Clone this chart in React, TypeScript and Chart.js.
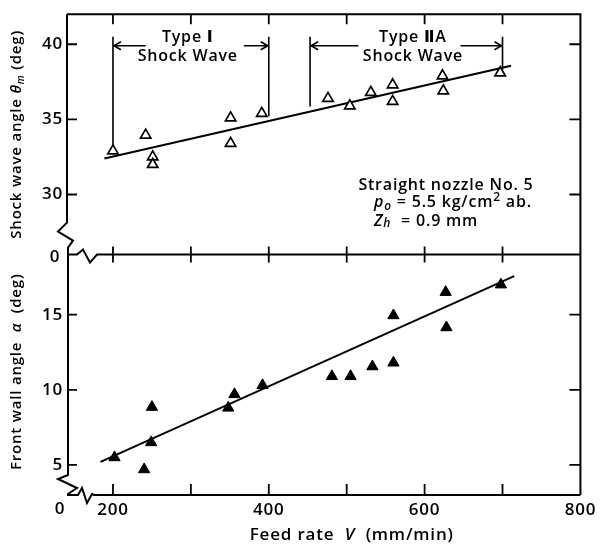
import React, { useEffect, useRef } from 'react';
import { Chart, registerables } from 'chart.js';
Chart.register(...registerables);

// ---- data ----
const shockX = [200, 242, 251, 251, 351, 351, 391, 476, 504, 531, 559, 559, 623, 624, 697];
const shockY = [32.9, 33.95, 32.5, 32.0, 35.1, 33.4, 35.4, 36.4, 35.9, 36.8, 37.3, 36.2, 37.9, 36.9, 38.1];
const wallX = [202, 240, 249, 250, 348, 356, 392, 481, 505, 533, 560, 560, 627, 628, 698];
const wallY = [5.5, 4.7, 6.5, 8.85, 8.8, 9.7, 10.3, 10.9, 10.9, 11.55, 11.8, 14.95, 16.5, 14.15, 17.0];
const shockFitX = [189, 711];
const shockFitY = [32.4, 38.57];
const wallFitX = [184, 715];
const wallFitY = [5.2, 17.57];

const xLabelTicks = [200, 400, 600, 800];
const xTickMarks = [200, 300, 400, 500, 600, 700];
const shockTicks = [30, 35, 40];
const wallTicks = [5, 10, 15];
const X_MIN = 141;
const X_MAX = 800;
const SHOCK_MIN = 26;
const SHOCK_MAX = 42;
const WALL_MIN = 3;
const WALL_MAX = 19;

// shock-wave type brackets (x ranges) and labels
const typeNames = ['Type \u2160', 'Type \u2161A'];
const typeRanges = [[200, 400], [453, 700]];
const typeBottoms = [[33.3, 35.2], [35.85, 38.3]];
const typeLabelX = [296, 585];
const typeArrowInner = [[242, 368], [515, 646]];

const FONT = '"Open Sans", "DejaVu Sans", sans-serif';
const W = '600';
const SPACING = '0.8px';

type Run = { t: string; font: string; dy?: number };
function drawRuns(ctx: CanvasRenderingContext2D, runs: Run[], x: number, y: number, align: 'left' | 'center') {
  let total = 0;
  runs.forEach((r) => { ctx.font = r.font; total += ctx.measureText(r.t).width; });
  let cx = align === 'center' ? x - total / 2 : x;
  ctx.textAlign = 'left';
  ctx.textBaseline = 'middle';
  runs.forEach((r) => {
    ctx.font = r.font;
    ctx.fillText(r.t, cx, y + (r.dy || 0));
    cx += ctx.measureText(r.t).width;
  });
}

const framePlugin = {
  id: 'framePlugin',
  beforeDraw(chart: any) {
    (chart.ctx as any).letterSpacing = SPACING;
  },
  afterDraw(chart: any) {
    const ctx: CanvasRenderingContext2D = chart.ctx;
    const ca = chart.chartArea;
    const xs = chart.scales.x;
    const yt = chart.scales.yTop;
    const yb = chart.scales.yBot;
    const L = ca.left, R = ca.right, T = ca.top, B = ca.bottom;
    const M = yt.bottom;
    ctx.save();
    (ctx as any).letterSpacing = SPACING;
    ctx.strokeStyle = '#000';
    ctx.fillStyle = '#000';
    ctx.lineWidth = 2;
    ctx.lineJoin = 'miter';
    // top + right
    ctx.beginPath();
    ctx.moveTo(L, T); ctx.lineTo(R, T); ctx.lineTo(R, B);
    ctx.stroke();
    // left axis with two breaks
    ctx.beginPath();
    ctx.moveTo(L, T);
    ctx.lineTo(L, M - 32);
    ctx.lineTo(L - 9, M - 23);
    ctx.lineTo(L + 6, M - 14);
    ctx.lineTo(L + 1, M - 7);
    ctx.lineTo(L + 1, B - 20);
    ctx.lineTo(L - 9, B - 16);
    ctx.lineTo(L + 10, B - 7);
    ctx.lineTo(L + 1, B - 1);
    ctx.lineTo(L + 1, B);
    ctx.stroke();
    // divider with break
    ctx.beginPath();
    ctx.moveTo(L, M);
    ctx.lineTo(L + 10, M);
    ctx.lineTo(L + 16, M - 5);
    ctx.lineTo(L + 23, M + 8);
    ctx.lineTo(L + 30, M);
    ctx.lineTo(R, M);
    ctx.stroke();
    // bottom with break
    ctx.beginPath();
    ctx.moveTo(L, B);
    ctx.lineTo(L + 11, B);
    ctx.lineTo(L + 15, B - 7);
    ctx.lineTo(L + 20, B + 8);
    ctx.lineTo(L + 25, B - 1);
    ctx.lineTo(L + 27, B);
    ctx.lineTo(R, B);
    ctx.stroke();

    // tick marks (inward)
    ctx.lineWidth = 1.8;
    ctx.beginPath();
    xTickMarks.forEach((v) => {
      const px = xs.getPixelForValue(v);
      ctx.moveTo(px, T); ctx.lineTo(px, T + 10);
      ctx.moveTo(px, M - 8); ctx.lineTo(px, M + 8);
      ctx.moveTo(px, B); ctx.lineTo(px, B - 11);
    });
    shockTicks.forEach((v) => {
      const py = yt.getPixelForValue(v);
      ctx.moveTo(L, py); ctx.lineTo(L + 10, py);
      ctx.moveTo(R, py); ctx.lineTo(R - 11, py);
    });
    wallTicks.forEach((v) => {
      const py = yb.getPixelForValue(v);
      ctx.moveTo(L, py); ctx.lineTo(L + 10, py);
      ctx.moveTo(R, py); ctx.lineTo(R - 11, py);
    });
    ctx.stroke();

    // "0" labels at the broken origins
    ctx.font = `${W} 17px ${FONT}`;
    ctx.textAlign = 'center';
    ctx.textBaseline = 'middle';
    ctx.fillText('0', L - 12, M + 3);
    ctx.fillText('0', L - 7, B + 14);

    // type brackets
    ctx.lineWidth = 1.6;
    const topY = yt.getPixelForValue(40.5);
    const arrowY = yt.getPixelForValue(39.9);
    typeRanges.forEach((rg, i) => {
      const x0 = xs.getPixelForValue(rg[0]);
      const x1 = xs.getPixelForValue(rg[1]);
      ctx.beginPath();
      ctx.moveTo(x0, topY); ctx.lineTo(x0, yt.getPixelForValue(typeBottoms[i][0]));
      ctx.moveTo(x1, topY); ctx.lineTo(x1, yt.getPixelForValue(typeBottoms[i][1]));
      const a0 = xs.getPixelForValue(typeArrowInner[i][0]);
      const a1 = xs.getPixelForValue(typeArrowInner[i][1]);
      ctx.moveTo(x0, arrowY); ctx.lineTo(a0, arrowY);
      ctx.moveTo(a1, arrowY); ctx.lineTo(x1, arrowY);
      // arrowheads
      ctx.moveTo(x0 + 8, arrowY - 4); ctx.lineTo(x0 + 1, arrowY); ctx.lineTo(x0 + 8, arrowY + 4);
      ctx.moveTo(x1 - 8, arrowY - 4); ctx.lineTo(x1 - 1, arrowY); ctx.lineTo(x1 - 8, arrowY + 4);
      ctx.stroke();
      const lx = xs.getPixelForValue(typeLabelX[i]);
      drawRuns(ctx, [{ t: typeNames[i], font: `${W} 16px ${FONT}` }], lx, yt.getPixelForValue(40.45), 'center');
      drawRuns(ctx, [{ t: 'Shock Wave', font: `${W} 16px ${FONT}` }], lx, yt.getPixelForValue(39.2), 'center');
    });

    // note
    const n16 = `${W} 16px ${FONT}`;
    const i16 = `italic ${W} 16px ${FONT}`;
    drawRuns(ctx, [{ t: 'Straight nozzle No. 5', font: n16 }], xs.getPixelForValue(515), yt.getPixelForValue(30.6), 'left');
    drawRuns(ctx, [
      { t: 'p', font: i16 },
      { t: 'o', font: `italic ${W} 12px ${FONT}`, dy: 4 },
      { t: ' = 5.5 kg/cm', font: n16 },
      { t: '2', font: `${W} 12px ${FONT}`, dy: -5 },
      { t: ' ab.', font: n16 },
    ], xs.getPixelForValue(535), yt.getPixelForValue(29.45), 'left');
    drawRuns(ctx, [
      { t: 'Z', font: i16 },
      { t: 'h', font: `italic ${W} 12px ${FONT}`, dy: 2 },
      { t: '  = 0.9 mm', font: n16 },
    ], xs.getPixelForValue(535), yt.getPixelForValue(28.2), 'left');

    // axis titles
    const n15 = `${W} 15px ${FONT}`;
    ctx.save();
    ctx.translate(17, (T + M) / 2);
    ctx.rotate(-Math.PI / 2);
    drawRuns(ctx, [
      { t: 'Shock wave angle ', font: n15 },
      { t: '\u03b8', font: `italic ${W} 15px ${FONT}` },
      { t: 'm', font: `italic ${W} 10px ${FONT}`, dy: 4 },
      { t: ' (deg)', font: n15 },
    ], 0, 0, 'center');
    ctx.restore();
    ctx.save();
    ctx.translate(17, (M + B) / 2 - 3);
    ctx.rotate(-Math.PI / 2);
    drawRuns(ctx, [
      { t: 'Front wall angle  ', font: n15 },
      { t: '\u03b1', font: `italic ${W} 15px ${FONT}` },
      { t: '  (deg)', font: n15 },
    ], 0, 0, 'center');
    ctx.restore();
    drawRuns(ctx, [
      { t: 'Feed rate  ', font: `${W} 17px ${FONT}` },
      { t: 'V', font: `italic ${W} 17px ${FONT}` },
      { t: '  (mm/min)', font: `${W} 17px ${FONT}` },
    ], (L + R) / 2 + 28, 535, 'center');

    ctx.restore();
  },
};

export default function App() {
  const ref = useRef<HTMLCanvasElement | null>(null);
  useEffect(() => {
    if (!ref.current) return;
    const tickFont = { family: FONT, size: 17, weight: W };
    const chart = new Chart(ref.current, {
      type: 'scatter',
      data: {
        datasets: [
          {
            label: 'Shock wave angle',
            data: shockX.map((x, i) => ({ x, y: shockY[i] })),
            yAxisID: 'yTop',
            pointStyle: 'triangle',
            pointRadius: 6,
            backgroundColor: '#fff',
            borderColor: '#000',
            borderWidth: 1.7,
            showLine: false,
          },
          {
            label: 'Shock fit',
            data: shockFitX.map((x, i) => ({ x, y: shockFitY[i] })),
            yAxisID: 'yTop',
            showLine: true,
            pointRadius: 0,
            borderColor: '#000',
            borderWidth: 2,
          },
          {
            label: 'Front wall angle',
            data: wallX.map((x, i) => ({ x, y: wallY[i] })),
            yAxisID: 'yBot',
            pointStyle: 'triangle',
            pointRadius: 6.5,
            backgroundColor: '#000',
            borderColor: '#000',
            borderWidth: 1,
            showLine: false,
          },
          {
            label: 'Wall fit',
            data: wallFitX.map((x, i) => ({ x, y: wallFitY[i] })),
            yAxisID: 'yBot',
            showLine: true,
            pointRadius: 0,
            borderColor: '#000',
            borderWidth: 2,
          },
        ],
      },
      plugins: [framePlugin],
      options: {
        animation: false,
        responsive: false,
        devicePixelRatio: 1,
        layout: { padding: { top: 9, right: 17, left: 0, bottom: 0 } },
        plugins: { legend: { display: false }, tooltip: { enabled: false } },
        scales: {
          x: {
            type: 'linear',
            min: X_MIN,
            max: X_MAX,
            afterBuildTicks: (s: any) => { s.ticks = xLabelTicks.map((v) => ({ value: v })); },
            afterFit: (s: any) => { s.height = 54; },
            grid: { display: false, drawTicks: false },
            border: { display: false },
            ticks: { font: tickFont, color: '#000', padding: 5, maxRotation: 0, autoSkip: false },
          },
          yTop: {
            type: 'linear',
            position: 'left',
            stack: 'panels',
            stackWeight: 1,
            weight: 2,
            min: SHOCK_MIN,
            max: SHOCK_MAX,
            afterBuildTicks: (s: any) => { s.ticks = shockTicks.map((v) => ({ value: v })); },
            afterFit: (s: any) => { s.width = 67; },
            grid: { display: false, drawTicks: false },
            border: { display: false },
            ticks: { font: tickFont, color: '#000', padding: 4, autoSkip: false },
          },
          yBot: {
            type: 'linear',
            position: 'left',
            stack: 'panels',
            stackWeight: 1,
            weight: 1,
            min: WALL_MIN,
            max: WALL_MAX,
            afterBuildTicks: (s: any) => { s.ticks = wallTicks.map((v) => ({ value: v })); },
            afterFit: (s: any) => { s.width = 67; },
            grid: { display: false, drawTicks: false },
            border: { display: false },
            ticks: { font: tickFont, color: '#000', padding: 4, autoSkip: false },
          },
        },
      } as any,
    });
    return () => chart.destroy();
  }, []);
  return (
    <div style={{ position: 'fixed', left: 0, top: 0, width: 600, height: 549, background: '#fff' }}>
      <canvas ref={ref} width={600} height={549} style={{ display: 'block' }} />
    </div>
  );
}
